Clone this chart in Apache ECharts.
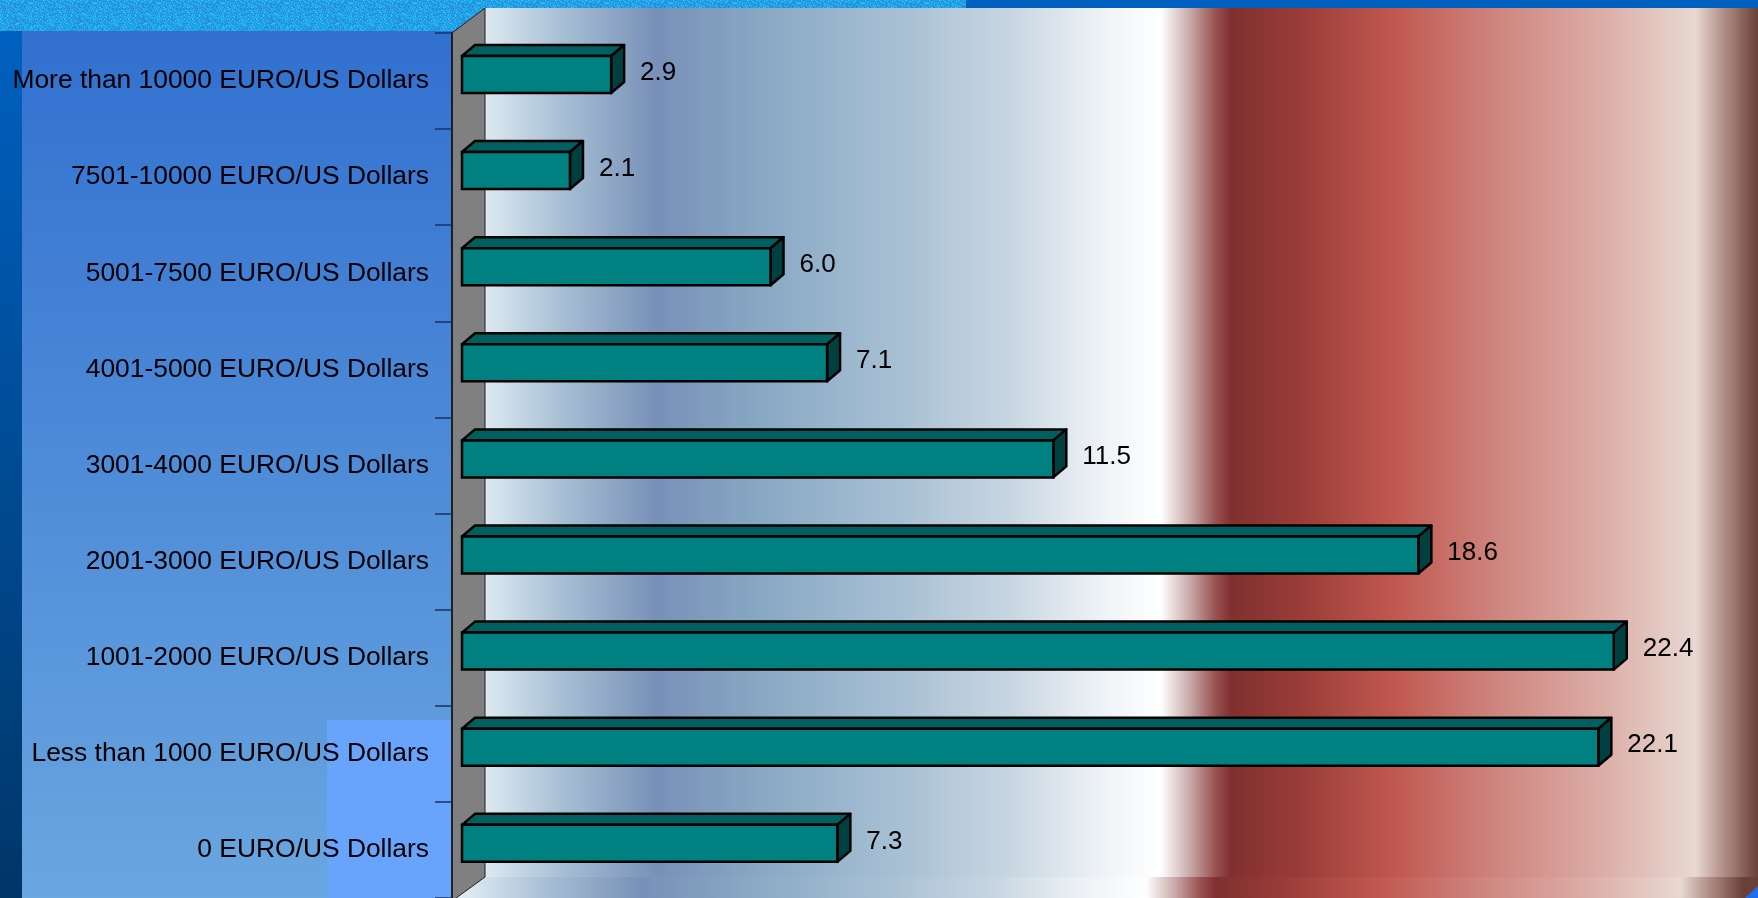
<!DOCTYPE html>
<html>
<head>
<meta charset="utf-8">
<style>
html,body{margin:0;padding:0;background:#3370d0;}
#chart{width:1758px;height:898px;}
</style>
<script src="https://cdn.jsdelivr.net/npm/echarts@6/dist/echarts.min.js"></script>
</head>
<body>
<div id="chart"></div>
<script>
const categories = [
  'More than 10000 EURO/US Dollars',
  '7501-10000 EURO/US Dollars',
  '5001-7500 EURO/US Dollars',
  '4001-5000 EURO/US Dollars',
  '3001-4000 EURO/US Dollars',
  '2001-3000 EURO/US Dollars',
  '1001-2000 EURO/US Dollars',
  'Less than 1000 EURO/US Dollars',
  '0 EURO/US Dollars'
];
const values = [2.9, 2.1, 6.0, 7.1, 11.5, 18.6, 22.4, 22.1, 7.3];

// texture for the top strip (deterministic speckle)
function makeTexture(){
  const c = document.createElement('canvas');
  c.width = 64; c.height = 32;
  const ctx = c.getContext('2d');
  ctx.fillStyle = '#1ea8ec'; ctx.fillRect(0,0,64,32);
  let s = 12345;
  for (let y=0;y<32;y++) for (let x=0;x<64;x++){
    s = (s*1103515245 + 12345) & 0x7fffffff;
    const r = (s>>8) % 100;
    if (r < 35) { ctx.fillStyle = r<15 ? '#2c84d4' : '#2196dc'; ctx.fillRect(x,y,1,1); }
    else if (r > 85) { ctx.fillStyle = '#38c0f4'; ctx.fillRect(x,y,1,1); }
  }
  return c;
}
const tex = makeTexture();

const stops = [
  [0,'#dde9f1'],[0.059,'#a8c0d4'],[0.135,'#7890b8'],[0.216,'#88a8c4'],
  [0.326,'#a8c0d4'],[0.413,'#c8d6e2'],[0.484,'#eef2f6'],[0.523,'#fcfdfe'],
  [0.531,'#ffffff'],[0.554,'#c8a8a8'],[0.574,'#985050'],[0.586,'#803030'],
  [0.64,'#9a3c38'],[0.714,'#c05850'],[0.797,'#cf8680'],[0.876,'#dcaca6'],
  [0.951,'#e8d8d2'],[0.97,'#b89890'],[1,'#6a4038']
].map(s=>({offset:s[0], color:s[1]}));
const plotGrad = new echarts.graphic.LinearGradient(485,0,1758,0,stops,true);
const floorGrad = new echarts.graphic.LinearGradient(470,0,1743,0,stops,true);

const chart = echarts.init(document.getElementById('chart'), null, {renderer:'canvas'});

const option = {
  animation: false,
  backgroundColor: '#3370d0',
  graphic: [
    {type:'rect', z:-20, shape:{x:0,y:0,width:1758,height:10}, style:{fill:'#0060c0'}},
    {type:'rect', z:-19, shape:{x:0,y:0,width:966,height:31}, style:{fill:{image:tex, repeat:'repeat'}}},
    {type:'rect', z:-18, shape:{x:0,y:31,width:486,height:867},
      style:{fill:new echarts.graphic.LinearGradient(0,0,0,1,[{offset:0,color:'#3270d0'},{offset:1,color:'#6aa6e0'}])}},
    {type:'rect', z:-17, shape:{x:0,y:31,width:22,height:867},
      style:{fill:new echarts.graphic.LinearGradient(0,0,0,1,[{offset:0,color:'#0060c0'},{offset:1,color:'#003668'}])}},
    {type:'rect', z:-17, shape:{x:327,y:720,width:159,height:178}, style:{fill:'#68a4fc'}},
    {type:'rect', z:-16, shape:{x:485,y:8,width:1273,height:890}, style:{fill:plotGrad}},
    {type:'polygon', z:-15, shape:{points:[[452,901],[485,877],[1758,877],[1758,901]]},
      style:{fill:floorGrad}},
    {type:'polygon', z:-14, shape:{points:[[1745,898],[1758,886],[1758,898]]}, style:{fill:'#1e6ef0'}},
    {type:'polygon', z:-13, shape:{points:[[452,33],[485,8],[485,877],[452,901]]},
      style:{fill:'#808080', stroke:'#202020', lineWidth:1}}
  ],
  grid: {left:452, top:33, width:1306, height:866.7, containLabel:false},
  xAxis: {type:'value', min:0, max:25.4, show:false},
  yAxis: {
    type:'category', inverse:true, data:categories, position:'left',
    axisLine:{show:true, lineStyle:{color:'#101010', width:1.5}},
    axisTick:{show:true, length:17, lineStyle:{color:'#1a3060', width:1.5}},
    axisLabel:{color:'#000', fontSize:26.4, fontFamily:'"Liberation Sans", Arial, sans-serif', margin:23},
    splitLine:{show:false}
  },
  series: [{
    type:'custom',
    data: values.map((v,i)=>[v,i]),
    encode:{x:0, y:1},
    renderItem: function(params, api){
      const v = api.value(0), i = api.value(1);
      const p0 = api.coord([0, i]);
      const p1 = api.coord([v, i]);
      const sx = 10, cy = p0[1] - 6.6, h = 37, dx = 13, dy = 11;
      const x0 = p0[0] + sx, x1 = p1[0] + sx, y0 = cy - h/2, y1 = cy + h/2;
      return {type:'group', children:[
        {type:'polygon', shape:{points:[[x0,y0],[x0+dx,y0-dy],[x1+dx,y0-dy],[x1,y0]]},
          style:{fill:'#006060', stroke:'#000', lineWidth:2.5, lineJoin:'round'}},
        {type:'polygon', shape:{points:[[x1,y0],[x1+dx,y0-dy],[x1+dx,y1-dy],[x1,y1]]},
          style:{fill:'#004040', stroke:'#000', lineWidth:2.5, lineJoin:'round'}},
        {type:'rect', shape:{x:x0, y:y0, width:x1-x0, height:h},
          style:{fill:'#008080', stroke:'#000', lineWidth:2.5}},
        {type:'text', style:{text:v.toFixed(1), x:x1+29, y:cy-2, fill:'#000',
          font:'26px "Liberation Sans", Arial, sans-serif', verticalAlign:'middle', align:'left'}}
      ]};
    }
  }]
};
chart.setOption(option);
</script>
</body>
</html>
